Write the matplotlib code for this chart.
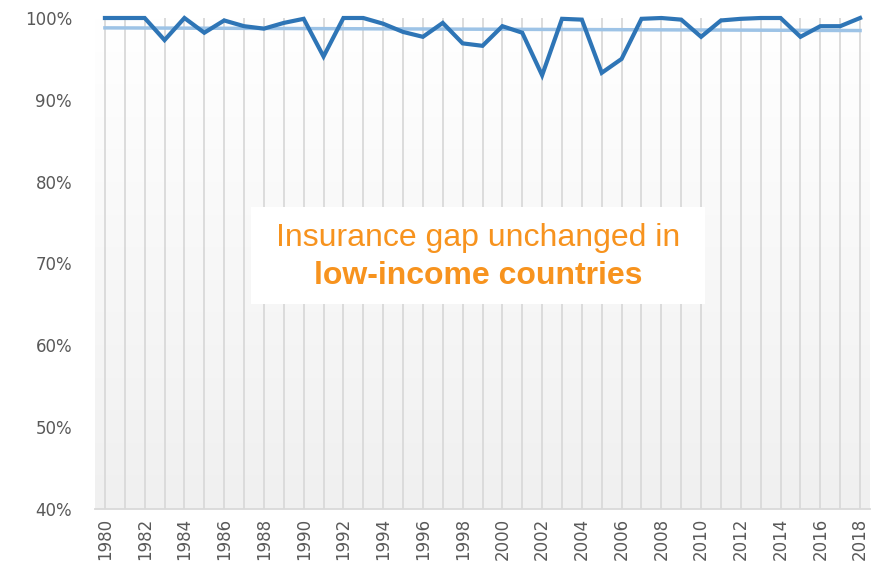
import numpy as np
import matplotlib
matplotlib.use("Agg")
import matplotlib.pyplot as plt
from matplotlib.patches import Rectangle
from matplotlib.colors import LinearSegmentedColormap

years = list(range(1980, 2019))
values = [100.0, 100.0, 100.0, 97.3, 100.0, 98.2, 99.7, 99.0, 98.7, 99.4,
          99.9, 95.3, 100.0, 100.0, 99.3, 98.3, 97.7, 99.4, 96.9, 96.6,
          99.0, 98.2, 93.0, 99.9, 99.8, 93.3, 95.0, 99.9, 100.0, 99.8,
          97.7, 99.7, 99.9, 100.0, 100.0, 97.7, 99.0, 99.0, 100.0]
ytick_vals = [40, 50, 60, 70, 80, 90, 100]
ytick_labels = ["40%", "50%", "60%", "70%", "80%", "90%", "100%"]
xtick_years = list(range(1980, 2019, 2))
annotation_line1 = "Insurance gap unchanged in"
annotation_line2 = "low-income countries"

fig = plt.figure(figsize=(8.77, 5.80), dpi=100)
ax = fig.add_axes([95/877, 71/580, 775/877, 491/580])

# gradient background
grad = np.linspace(0, 1, 256).reshape(-1, 1)
cmap = LinearSegmentedColormap.from_list("bg", ["#f0f0f0", "#ffffff"])
ax.imshow(grad, extent=[1979.5, 2018.5, 40, 100], origin="lower", aspect="auto",
          cmap=cmap, zorder=0)

for y in years:
    ax.axvline(y, color="#d9d9d9", lw=1.3, zorder=1)

x = np.array(years)
v = np.array(values)
coef = np.polyfit(x, v, 1)
trend = np.polyval(coef, x)
ax.plot(x, trend, color="#9dc3e6", lw=2.5, zorder=3, clip_on=False)
ax.plot(x, v, color="#2e75b6", lw=3, zorder=4, clip_on=False,
        solid_joinstyle="miter")

ax.set_xlim(1979.5, 2018.5)
ax.set_ylim(40, 100)
ax.set_yticks(ytick_vals)
ax.set_yticklabels(ytick_labels)
ax.set_xticks(xtick_years)
ax.set_xticklabels([str(y) for y in xtick_years], rotation=90)
ax.tick_params(axis="both", length=0, labelcolor="#595959", labelsize=12)
ax.tick_params(axis="y", pad=16.5)
ax.tick_params(axis="x", pad=6.5)
for s in ["top", "right", "left"]:
    ax.spines[s].set_visible(False)
ax.spines["bottom"].set_color("#d9d9d9")
ax.spines["bottom"].set_linewidth(1.3)

# annotation box
box = Rectangle((251/877, 1 - 304/580), (705-251)/877, (304-207)/580,
                transform=fig.transFigure, facecolor="white", edgecolor="none", zorder=5)
fig.patches.append(box)
fig.text(478/877, 1 - 238/580, annotation_line1, ha="center", va="center",
         color="#f7931e", fontsize=23, family="Liberation Sans", zorder=6)
fig.text(478/877, 1 - 276/580, annotation_line2, ha="center", va="center",
         color="#f7931e", fontsize=23, family="Liberation Sans", fontweight="bold", zorder=6)

fig.savefig("out.png", dpi=100)
